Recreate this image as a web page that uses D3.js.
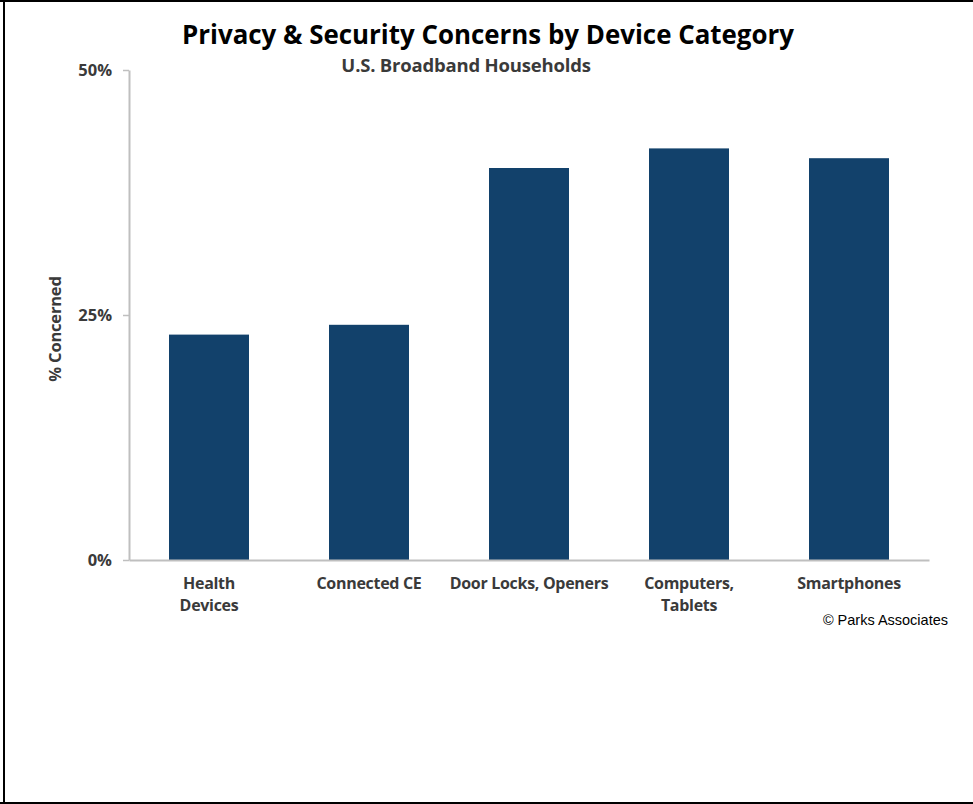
<!DOCTYPE html>
<html><head><meta charset="utf-8">
<script src="https://cdn.jsdelivr.net/npm/d3@7/dist/d3.min.js"></script>
<style>body{margin:0;background:#fff}svg{display:block}</style>
</head><body>
<script>
const categories = [["Health","Devices"],["Connected CE"],["Door Locks, Openers"],["Computers,","Tablets"],["Smartphones"]];
const values = [23, 24, 40, 42, 41];
const yTicks = [0, 25, 50];
const yTickLabels = ["0%","25%","50%"];
const titleText = "Privacy & Security Concerns by Device Category";
const subtitleText = "U.S. Broadband Households";
const yAxisTitle = "% Concerned";
const sourceText = "© Parks Associates";

const W = 973, H = 804;
const svg = d3.select("body").append("svg").attr("width", W).attr("height", H);
svg.append("rect").attr("width", W).attr("height", H).attr("fill", "#fff");
// frame
svg.append("rect").attr("x",0).attr("y",0).attr("width",W).attr("height",2).attr("fill","#000");
svg.append("rect").attr("x",3).attr("y",0).attr("width",2).attr("height",H).attr("fill","#000");
svg.append("rect").attr("x",0).attr("y",802).attr("width",W).attr("height",2).attr("fill","#000");

const x = d3.scaleBand().domain(d3.range(categories.length)).range([129, 929]).paddingInner(0.5).paddingOuter(0.25);
const y = d3.scaleLinear().domain([0, 50]).range([560, 70]);

const font = "'Open Sans', sans-serif";
const labelColor = "#3a3a3a";

// bars
svg.append("g").selectAll("rect").data(values).join("rect")
  .attr("x", (d,i) => x(i)).attr("width", x.bandwidth())
  .attr("y", d => y(d)).attr("height", d => y(0) - y(d))
  .attr("fill", "#12416B");

// y axis
const yAxis = d3.axisLeft(y).tickValues(yTicks).tickFormat((d,i) => yTickLabels[i]).tickSizeInner(6).tickSizeOuter(0).tickPadding(11);
const gy = svg.append("g").attr("transform", "translate(129,0)").call(yAxis);
gy.select(".domain").attr("stroke", "#BFBFBF").attr("stroke-width", 2);
gy.selectAll(".tick line").attr("stroke", "#BFBFBF").attr("stroke-width", 1.5);
gy.selectAll(".tick text").attr("fill", labelColor).attr("font-family", font).attr("font-weight", "bold").attr("font-size", 16.5);

// x axis
const xAxis = d3.axisBottom(x).tickSize(0).tickFormat("");
const gx = svg.append("g").attr("transform", "translate(0,560)").call(xAxis);
gx.select(".domain").attr("stroke", "#BFBFBF").attr("stroke-width", 2);
gx.selectAll(".tick").each(function(d) {
  const t = d3.select(this).append("text").attr("fill", labelColor).attr("font-family", font)
    .attr("font-weight", "bold").attr("font-size", 16).attr("text-anchor", "middle").attr("letter-spacing", -0.3);
  categories[d].forEach((line, k) => {
    t.append("tspan").attr("x", 0).attr("y", 29 + k * 22).text(line);
  });
});

// titles
svg.append("text").attr("x", 488).attr("y", 44).attr("text-anchor", "middle")
  .attr("font-family", font).attr("font-weight", "bold").attr("font-size", 26.5)
  .attr("textLength", 612).attr("lengthAdjust", "spacingAndGlyphs").attr("fill", "#000").text(titleText);
svg.append("text").attr("x", 466).attr("y", 72).attr("text-anchor", "middle")
  .attr("font-family", font).attr("font-weight", "bold").attr("font-size", 18.5)
  .attr("letter-spacing", -0.2).attr("fill", labelColor).text(subtitleText);

svg.append("text").attr("transform", "translate(61,329) rotate(-90)").attr("text-anchor", "middle")
  .attr("font-family", font).attr("font-weight", "bold").attr("font-size", 16.5)
  .attr("letter-spacing", -0.2).attr("fill", labelColor).text(yAxisTitle);

svg.append("text").attr("x", 948).attr("y", 625).attr("text-anchor", "end")
  .attr("font-family", "'Liberation Sans', Arial, sans-serif").attr("font-size", 14.5)
  .attr("fill", "#000").text(sourceText);
</script>
</body></html>
